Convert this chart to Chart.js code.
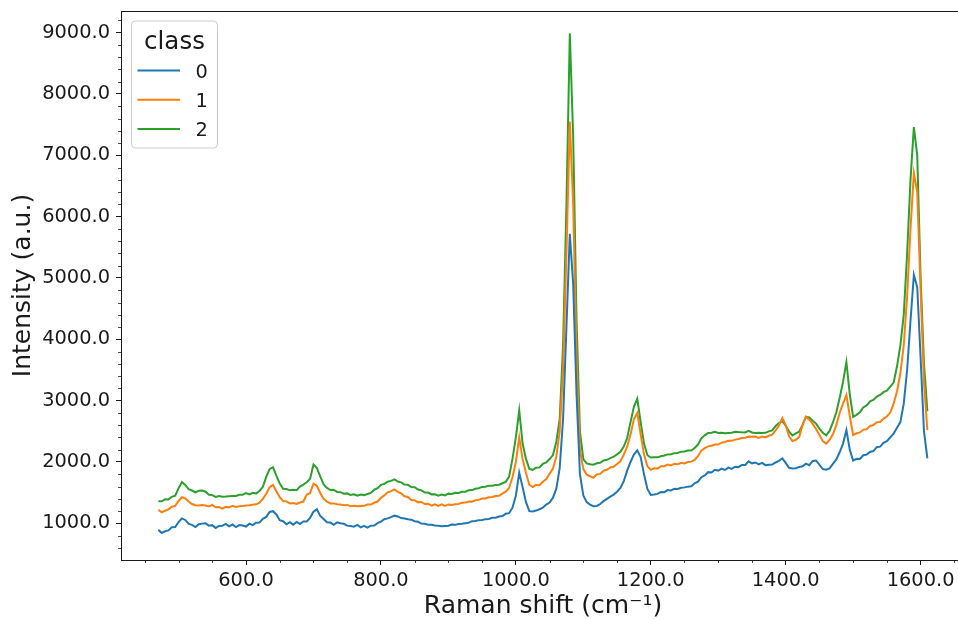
<!DOCTYPE html>
<html>
<head>
<meta charset="utf-8">
<script src="https://cdn.jsdelivr.net/npm/chart.js@4.4.1/dist/chart.umd.min.js"></script>
<style>
  html, body { margin: 0; padding: 0; background: #fff; overflow: hidden; width: 958px; height: 619px; }
  #wrap { width: 966px; height: 619px; }
</style>
</head>
<body>
<div id="wrap"><canvas id="c" width="966" height="619"></canvas></div>
<script>
// Raman shift (cm^-1) sampling positions
const shift = [
  470,475,480,485,490,495,500,505,510,515,
  520,525,530,535,540,545,550,555,560,565,
  570,575,580,585,590,595,600,605,610,615,
  620,625,630,635,640,645,650,655,660,665,
  670,675,680,685,690,695,700,705,710,715,
  720,725,730,735,740,745,750,755,760,765,
  770,775,780,785,790,795,800,805,810,815,
  820,825,830,835,840,845,850,855,860,865,
  870,875,880,885,890,895,900,905,910,915,
  920,925,930,935,940,945,950,955,960,965,
  970,975,980,985,990,995,1000,1005,1010,1015,
  1020,1025,1030,1035,1040,1045,1050,1055,1060,1065,
  1070,1075,1080,1085,1090,1095,1100,1105,1110,1115,
  1120,1125,1130,1135,1140,1145,1150,1155,1160,1165,
  1170,1175,1180,1185,1190,1195,1200,1205,1210,1215,
  1220,1225,1230,1235,1240,1245,1250,1255,1260,1265,
  1270,1275,1280,1285,1290,1295,1300,1305,1310,1315,
  1320,1325,1330,1335,1340,1345,1350,1355,1360,1365,
  1370,1375,1380,1385,1390,1395,1400,1405,1410,1415,
  1420,1425,1430,1435,1440,1445,1450,1455,1460,1465,
  1470,1475,1480,1485,1490,1495,1500,1505,1510,1515,
  1520,1525,1530,1535,1540,1545,1550,1555,1560,1565,
  1570,1575,1580,1585,1590,1595,1600,1605,1610
];

// class 0
const class0 = [
  895,842,870,885,935,940,1020,1080,1055,990,
  975,940,985,995,1000,962,970,925,958,962,
  990,950,980,940,972,965,948,995,970,1010,
  1012,1072,1105,1185,1198,1145,1050,1035,985,1018,
  978,1022,990,1030,1030,1090,1190,1228,1120,1070,
  1018,1012,975,1015,1000,992,962,955,945,975,
  935,960,930,962,965,1004,1028,1066,1080,1102,
  1125,1112,1085,1080,1068,1060,1035,1025,995,992,
  978,975,965,962,952,958,960,980,975,988,
  992,1002,1008,1035,1038,1052,1055,1068,1070,1090,
  1090,1110,1118,1155,1165,1255,1450,1825,1590,1345,
  1198,1192,1208,1230,1255,1305,1338,1418,1565,1900,
  2700,4200,5720,4900,3100,1800,1455,1345,1305,1278,
  1284,1315,1362,1398,1435,1468,1515,1578,1688,1860,
  2000,2120,2190,2080,1800,1560,1462,1470,1480,1512,
  1508,1542,1535,1564,1560,1580,1586,1598,1605,1652,
  1680,1752,1780,1834,1828,1872,1860,1892,1870,1908,
  1888,1922,1915,1952,1950,2010,1978,1992,1962,1985,
  1948,1955,1958,1992,2018,2060,1985,1905,1895,1898,
  1920,1930,1972,1948,2018,2025,1955,1885,1875,1895,
  1968,2042,2158,2300,2520,2200,2022,2052,2050,2110,
  2120,2164,2178,2242,2250,2312,2338,2402,2462,2560,
  2650,2950,3500,4300,5050,4850,3700,2500,2060
];

// class 1
const class1 = [
  1222,1180,1205,1228,1270,1285,1365,1425,1405,1355,
  1315,1295,1292,1298,1290,1276,1300,1262,1264,1240,
  1270,1260,1285,1268,1280,1282,1292,1295,1304,1310,
  1335,1398,1482,1588,1625,1524,1428,1362,1358,1325,
  1330,1316,1340,1355,1468,1492,1645,1612,1495,1398,
  1355,1325,1325,1310,1305,1296,1300,1278,1285,1280,
  1284,1285,1305,1305,1335,1355,1415,1455,1505,1525,
  1552,1512,1488,1442,1430,1380,1378,1342,1348,1315,
  1320,1290,1310,1285,1308,1284,1308,1300,1312,1315,
  1335,1338,1355,1352,1375,1382,1405,1405,1425,1428,
  1445,1450,1485,1515,1575,1750,2000,2400,2050,1820,
  1626,1592,1628,1622,1678,1722,1808,1892,2090,2500,
  3500,5400,7550,6200,3700,2200,1888,1792,1768,1742,
  1798,1806,1858,1872,1910,1922,1968,2012,2120,2250,
  2450,2700,2800,2450,2120,1930,1872,1898,1892,1930,
  1932,1958,1944,1972,1962,1986,1976,2000,2006,2034,
  2094,2186,2226,2255,2265,2285,2285,2315,2325,2345,
  2345,2365,2375,2392,2396,2414,2412,2414,2392,2414,
  2402,2428,2446,2514,2594,2720,2600,2420,2340,2362,
  2410,2600,2740,2690,2620,2540,2440,2340,2300,2360,
  2450,2600,2800,2950,3090,2750,2440,2468,2482,2528,
  2532,2588,2602,2648,2652,2708,2742,2806,2950,3150,
  3450,3900,4700,5800,6710,6400,4800,3300,2520
];

// class 2
const class2 = [
  1360,1360,1392,1390,1432,1450,1570,1672,1625,1555,
  1535,1505,1530,1535,1515,1465,1460,1430,1444,1435,
  1436,1440,1445,1446,1465,1466,1492,1472,1498,1488,
  1528,1596,1758,1884,1915,1776,1648,1564,1558,1538,
  1548,1540,1598,1632,1668,1726,1960,1902,1766,1636,
  1578,1542,1548,1512,1508,1482,1488,1462,1472,1452,
  1468,1460,1478,1496,1548,1572,1628,1642,1678,1692,
  1718,1682,1668,1632,1628,1592,1588,1552,1538,1502,
  1502,1472,1474,1452,1468,1456,1484,1478,1498,1496,
  1514,1516,1538,1542,1564,1572,1594,1596,1614,1612,
  1624,1630,1654,1676,1760,2050,2400,2840,2300,2050,
  1886,1872,1908,1912,1968,1992,2048,2112,2330,2700,
  3900,6200,8990,7300,4300,2500,2046,1976,1964,1956,
  1978,1986,2024,2036,2064,2086,2124,2166,2250,2390,
  2650,2900,3030,2650,2300,2110,2072,2078,2076,2094,
  2106,2124,2126,2144,2146,2168,2172,2188,2186,2228,
  2284,2386,2434,2474,2476,2494,2472,2478,2470,2474,
  2476,2494,2488,2484,2482,2508,2482,2474,2476,2474,
  2476,2500,2516,2586,2634,2666,2594,2496,2434,2468,
  2494,2606,2734,2726,2674,2626,2544,2476,2434,2506,
  2644,2806,3044,3306,3630,3100,2734,2768,2812,2888,
  2922,2988,3012,3068,3092,3138,3162,3228,3294,3560,
  3900,4400,5400,6600,7460,7000,5000,3600,2830
];

const seriesNames = ['0', '1', '2'];
const seriesColors = ['#1f77b4', '#ff7f0e', '#2ca02c'];
const legendTitle = 'class';

const xTicks = [600, 800, 1000, 1200, 1400, 1600];
const xMinorTicks = [450,500,550,650,700,750,850,900,950,1050,1100,1150,1250,1300,1350,1450,1500,1550,1650];
const yTicks = [1000, 2000, 3000, 4000, 5000, 6000, 7000, 8000, 9000];
const yMinorTicks = [600,800,1200,1400,1600,1800,2200,2400,2600,2800,3200,3400,3600,3800,
  4200,4400,4600,4800,5200,5400,5600,5800,6200,6400,6600,6800,7200,7400,7600,7800,
  8200,8400,8600,8800,9200];

const FONT = 'DejaVu Sans';
const INK = '#1a1a1a';

const toPts = (ys) => shift.map((x, i) => ({ x: x, y: ys[i] }));

const frameAndExtras = {
  id: 'frameAndExtras',
  afterDraw(chart) {
    const ctx = chart.ctx;
    const a = chart.chartArea;
    const xs = chart.scales.x, ys = chart.scales.y;
    ctx.save();
    // top and right spines
    ctx.strokeStyle = INK;
    ctx.lineWidth = 1;
    ctx.beginPath();
    ctx.moveTo(a.left, a.top + 0.5);
    ctx.lineTo(a.right, a.top + 0.5);
    ctx.moveTo(a.right - 0.5, a.top);
    ctx.lineTo(a.right - 0.5, a.bottom);
    ctx.stroke();
    // minor ticks
    ctx.lineWidth = 0.8;
    ctx.beginPath();
    xMinorTicks.forEach(v => {
      const px = Math.round(xs.getPixelForValue(v)) + 0.5;
      ctx.moveTo(px, a.bottom);
      ctx.lineTo(px, a.bottom + 3);
    });
    yMinorTicks.forEach(v => {
      const py = Math.round(ys.getPixelForValue(v)) + 0.5;
      if (py > a.bottom || py < a.top) return;
      ctx.moveTo(a.left, py);
      ctx.lineTo(a.left - 3, py);
    });
    ctx.stroke();

    // legend
    const bx = a.left + 10.5, by = a.top + 10, bw = 86, bh = 127, r = 4;
    ctx.beginPath();
    ctx.moveTo(bx + r, by);
    ctx.lineTo(bx + bw - r, by);
    ctx.arcTo(bx + bw, by, bx + bw, by + r, r);
    ctx.lineTo(bx + bw, by + bh - r);
    ctx.arcTo(bx + bw, by + bh, bx + bw - r, by + bh, r);
    ctx.lineTo(bx + r, by + bh);
    ctx.arcTo(bx, by + bh, bx, by + bh - r, r);
    ctx.lineTo(bx, by + r);
    ctx.arcTo(bx, by, bx + r, by, r);
    ctx.closePath();
    ctx.fillStyle = 'rgba(255,255,255,0.8)';
    ctx.fill();
    ctx.strokeStyle = '#cccccc';
    ctx.lineWidth = 1;
    ctx.stroke();

    ctx.fillStyle = INK;
    ctx.font = '24.5px "' + FONT + '"';
    ctx.textAlign = 'center';
    ctx.textBaseline = 'alphabetic';
    ctx.fillText(legendTitle, bx + bw / 2, by + 28);

    ctx.font = '19.4px "' + FONT + '"';
    ctx.textAlign = 'left';
    chart.data.datasets.forEach((ds, i) => {
      const ly = by + 49.5 + i * 29.3;
      ctx.strokeStyle = ds.borderColor;
      ctx.lineWidth = 2;
      ctx.beginPath();
      ctx.moveTo(bx + 6, ly);
      ctx.lineTo(bx + 48.5, ly);
      ctx.stroke();
      ctx.fillStyle = INK;
      ctx.fillText(ds.label, bx + 64, ly + 7);
    });
    ctx.restore();
  }
};

new Chart(document.getElementById('c'), {
  type: 'line',
  data: {
    datasets: [class0, class1, class2].map((ys, i) => ({
      label: seriesNames[i],
      data: toPts(ys),
      borderColor: seriesColors[i],
      backgroundColor: seriesColors[i],
      borderWidth: 2,
      pointRadius: 0,
      tension: 0,
      fill: false
    }))
  },
  options: {
    responsive: false,
    animation: false,
    devicePixelRatio: 1,
    layout: { autoPadding: false, padding: { left: 0, right: 1, top: 11, bottom: 0 } },
    plugins: { legend: { display: false }, tooltip: { enabled: false } },
    scales: {
      x: {
        type: 'linear',
        min: 414.7,
        max: 1665.8,
        afterBuildTicks: (s) => { s.ticks = xTicks.map(v => ({ value: v })); },
        afterFit: (s) => { s.height = 59; s.paddingLeft = 0; s.paddingRight = 0; },
        grid: { drawOnChartArea: false, drawTicks: true, tickLength: 5, tickColor: INK, tickWidth: 1 },
        border: { display: true, color: INK, width: 1 },
        ticks: {
          autoSkip: false, maxRotation: 0, minRotation: 0, padding: 4, color: INK,
          font: { family: FONT, size: 19.4 },
          callback: (v) => Number(v).toFixed(1)
        },
        title: {
          display: true, text: 'Raman shift (cm\u207B\u00B9)', color: INK,
          font: { family: FONT, size: 25, lineHeight: 1 },
          padding: { top: 0, bottom: 0 }
        }
      },
      y: {
        type: 'linear',
        min: 402,
        max: 9353,
        afterBuildTicks: (s) => { s.ticks = yTicks.map(v => ({ value: v })); },
        afterFit: (s) => { s.width = 121; s.paddingTop = 0; s.paddingBottom = 0; },
        grid: { drawOnChartArea: false, drawTicks: true, tickLength: 5, tickColor: INK, tickWidth: 1 },
        border: { display: true, color: INK, width: 1 },
        ticks: {
          autoSkip: false, padding: 6, color: INK,
          font: { family: FONT, size: 19.4 },
          callback: (v) => Number(v).toFixed(1)
        },
        title: {
          display: true, text: 'Intensity (a.u.)', color: INK,
          font: { family: FONT, size: 25, lineHeight: 1 },
          padding: { top: 11, bottom: 0 }
        }
      }
    }
  },
  plugins: [frameAndExtras]
});
</script>
</body>
</html>
